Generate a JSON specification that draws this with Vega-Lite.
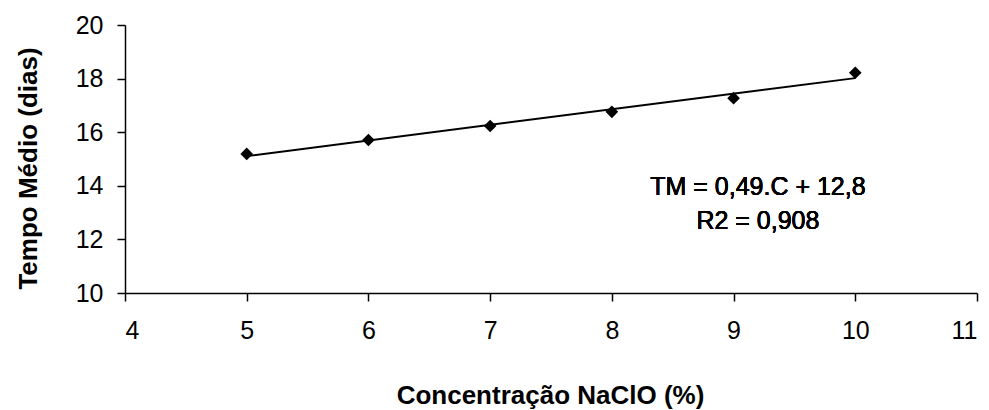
{
  "$schema": "https://vega.github.io/schema/vega-lite/v6.json",
  "autosize": "none",
  "width": 852,
  "height": 268,
  "padding": {"left": 125, "top": 25, "right": 12, "bottom": 117},
  "background": "white",
  "config": {
    "view": {"stroke": null},
    "font": "Liberation Sans",
    "axis": {
      "grid": false,
      "domainColor": "black",
      "tickColor": "black",
      "domainWidth": 1.5,
      "tickWidth": 1.5,
      "tickSize": 8,
      "labelColor": "black",
      "titleColor": "black",
      "labelFont": "Liberation Sans",
      "titleFont": "Liberation Sans",
      "labelFontSize": 25,
      "labelFontWeight": "normal",
      "titleFontSize": 26,
      "titleFontWeight": "bold"
    }
  },
  "data": {
    "values": [
      {"C": 5, "TM": 15.19},
      {"C": 6, "TM": 15.71},
      {"C": 7, "TM": 16.23},
      {"C": 8, "TM": 16.76},
      {"C": 9, "TM": 17.27},
      {"C": 10, "TM": 18.22}
    ]
  },
  "layer": [
    {
      "transform": [{"regression": "TM", "on": "C", "extent": [5, 10]}],
      "mark": {"type": "line", "color": "black", "strokeWidth": 2},
      "encoding": {
        "x": {"field": "C", "type": "quantitative"},
        "y": {"field": "TM", "type": "quantitative"}
      }
    },
    {
      "mark": {"type": "point", "shape": "diamond", "filled": true, "color": "black", "size": 160, "opacity": 1},
      "encoding": {
        "x": {
          "field": "C", "type": "quantitative",
          "scale": {"domain": [4, 11], "nice": false, "zero": false},
          "axis": {"values": [4, 5, 6, 7, 8, 9, 10, 11], "format": "d", "labelPadding": 17, "title": "Concentração NaClO (%)", "titleX": 425, "titleY": 110, "titleBaseline": "alphabetic", "titleAlign": "center"}
        },
        "y": {
          "field": "TM", "type": "quantitative",
          "scale": {"domain": [10, 20], "nice": false, "zero": false},
          "axis": {"values": [10, 12, 14, 16, 18, 20], "format": "d", "labelPadding": 14, "title": "Tempo Médio (dias)", "titleX": -97, "titleY": 143, "titleAngle": -90, "titleAlign": "center", "titleBaseline": "middle"}
        }
      }
    },
    {
      "mark": {"type": "text", "fontSize": 25, "fontWeight": "normal", "color": "black", "align": "center", "baseline": "middle", "lineHeight": 34, "font": "Liberation Sans"},
      "encoding": {
        "x": {"datum": 9.2},
        "y": {"datum": 13.96},
        "text": {"value": ["TM = 0,49.C + 12,8", "R2 = 0,908"]}
      }
    }
  ]
}
